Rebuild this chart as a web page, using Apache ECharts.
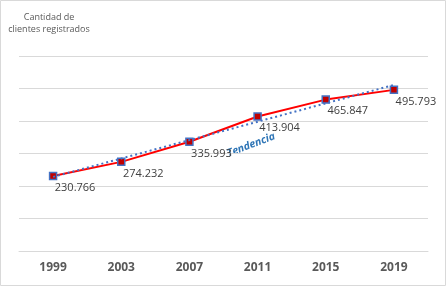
<!DOCTYPE html>
<html>
<head>
<meta charset="utf-8">
<script src="https://cdn.jsdelivr.net/npm/echarts@6/dist/echarts.min.js"></script>
<style>
  html, body { margin: 0; padding: 0; background: #fff; }
  #main { width: 447px; height: 287px; }
</style>
</head>
<body>
<div id="main"></div>
<script>
// datos
var years = ['1999', '2003', '2007', '2011', '2015', '2019'];
var clientes = [230.766, 274.232, 335.993, 413.904, 465.847, 495.793];
// linea de tendencia: extremos
var trendYears = ['1999', '2019'];
var trendValues = [228, 511];
var yTicks = [0, 100, 200, 300, 400, 500, 600];

var textGray = '#595959';
var chart = echarts.init(document.getElementById('main'));

function fmt(v) {
  return v.toFixed(3);
}

chart.setOption({
  animation: false,
  textStyle: { fontFamily: 'Open Sans' },
  grid: { left: 19, right: 19, top: 56, bottom: 36 },
  xAxis: {
    type: 'category',
    data: years,
    boundaryGap: true,
    axisLine: { lineStyle: { color: '#d9d9d9', width: 1 } },
    axisTick: { show: false },
    axisLabel: { color: textGray, fontWeight: 'bold', fontSize: 12, margin: 11 }
  },
  yAxis: {
    type: 'value',
    min: yTicks[0],
    max: yTicks[yTicks.length - 1],
    interval: 100,
    axisLine: { show: false },
    axisTick: { show: false },
    axisLabel: { show: false },
    splitLine: { lineStyle: { color: '#d9d9d9', width: 1 } }
  },
  graphic: [
    {
      type: 'rect',
      shape: { x: 0.5, y: 0.5, width: 445, height: 285 },
      style: { fill: 'none', stroke: '#d9d9d9', lineWidth: 1 },
      silent: true
    },
    {
      type: 'text',
      x: 49,
      y: 11,
      style: {
        text: 'Cantidad de\nclientes registrados',
        align: 'center',
        verticalAlign: 'top',
        fill: textGray,
        fontSize: 9,
        lineHeight: 12,
        fontFamily: 'Open Sans'
      }
    },
    {
      type: 'text',
      x: 251,
      y: 145,
      rotation: 21 * Math.PI / 180,
      style: {
        text: 'Tendencia',
        fill: '#2e75b6',
        fontSize: 10.5,
        fontWeight: 'bold',
        fontStyle: 'italic',
        align: 'center',
        verticalAlign: 'middle',
        fontFamily: 'Open Sans'
      }
    }
  ],
  series: [
    {
      name: 'Clientes',
      type: 'line',
      data: clientes,
      lineStyle: { color: '#ff0000', width: 2 },
      symbol: 'rect',
      symbolSize: 7,
      itemStyle: { color: '#c00000', borderColor: '#4472c4', borderWidth: 1.5 },
      label: {
        show: true,
        position: 'bottom',
        offset: [22, -3],
        color: '#404040',
        fontSize: 11,
        formatter: function (p) { return fmt(p.value); }
      },
      z: 3
    },
    {
      name: 'Tendencia',
      type: 'line',
      data: [[trendYears[0], trendValues[0]], [trendYears[1], trendValues[1]]],
      lineStyle: { color: '#4472c4', width: 2, type: [2, 3] },
      symbol: 'none',
      z: 4
    }
  ]
});
</script>
</body>
</html>
